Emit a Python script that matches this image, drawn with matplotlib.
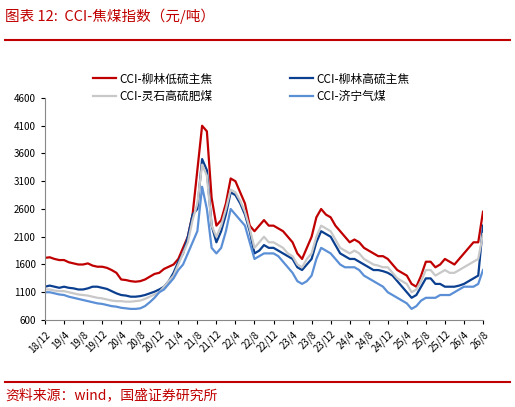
import matplotlib
matplotlib.use("Agg")
import matplotlib.pyplot as plt
import numpy as np

plt.rcParams['font.family'] = ['Noto Sans CJK SC', 'DejaVu Sans']

tick_labels = ["18/12","19/4","19/8","19/12","20/4","20/8","20/12","21/4","21/8","21/12","22/4","22/8",
               "22/12","23/4","23/8","23/12","24/4","24/8","24/12","25/4","25/8","25/12","26/4","26/8"]

red = [1720,1730,1700,1680,1680,1640,1620,1600,1600,1620,1580,1560,1560,
       1540,1500,1450,1330,1320,1300,1290,1300,1330,1380,1430,1450,
       1520,1560,1600,1700,1900,2100,2500,3300,4100,4000,2800,2300,
       2400,2700,3150,3100,2900,2700,2300,2200,2300,2400,2300,2300,
       2250,2200,2100,2000,1800,1700,1900,2100,2450,2600,2500,2450,
       2300,2200,2100,2000,2050,2000,1900,1850,1800,1750,1750,1700,
       1600,1500,1450,1400,1250,1200,1400,1650,1650,1550,1600,1700,
       1650,1600,1700,1800,1900,2000,2000,2550]
blue = [1200,1220,1200,1180,1200,1180,1170,1150,1150,1170,1200,1200,1180,
        1160,1120,1080,1050,1040,1020,1020,1030,1050,1080,1110,1150,
        1200,1300,1450,1650,1800,2100,2500,2600,3500,3300,2300,2000,
        2200,2500,2900,2850,2700,2500,2200,1800,1850,1950,1900,1900,
        1850,1800,1750,1700,1550,1500,1600,1700,2000,2200,2150,2100,
        1950,1800,1750,1700,1700,1650,1600,1550,1500,1500,1480,1450,
        1400,1300,1200,1100,1000,1050,1200,1350,1350,1250,1250,1200,
        1200,1200,1220,1250,1300,1350,1400,2300]
grey = [1150,1150,1130,1120,1120,1100,1080,1060,1050,1040,1020,1000,990,
        970,950,940,940,930,930,940,950,980,1020,1060,1100,
        1200,1300,1400,1600,1800,2000,2400,2700,3400,3200,2300,2100,
        2300,2600,2950,2900,2750,2550,2250,1900,2000,2100,2000,2000,
        1950,1900,1800,1750,1600,1550,1700,1800,2100,2300,2250,2200,
        2050,1900,1850,1800,1850,1800,1700,1650,1600,1580,1550,1550,
        1450,1350,1300,1250,1100,1150,1300,1500,1500,1400,1450,1500,
        1450,1450,1500,1550,1600,1650,1700,2150]
lblue = [1100,1100,1080,1060,1050,1020,1000,980,960,940,920,900,890,
         870,850,840,820,810,800,800,810,850,920,1000,1100,
         1150,1250,1350,1500,1600,1800,2000,2200,3000,2600,1900,1800,
         1900,2200,2600,2500,2400,2300,2000,1700,1750,1800,1800,1800,
         1750,1650,1550,1450,1300,1250,1300,1400,1700,1900,1850,1800,
         1700,1600,1550,1550,1550,1500,1400,1350,1300,1250,1200,1100,
         1050,1000,950,900,800,850,950,1000,1000,1000,1050,1050,
         1050,1100,1150,1200,1200,1200,1250,1500]

x = np.arange(len(red))
fig = plt.figure(figsize=(5.15, 4.07), dpi=100)
ax = fig.add_axes([45/515, 1-320/407, 438/515, 222/407])
l1, = ax.plot(x, red, color='#C00000', lw=1.6, label='CCI-柳林低硫主焦')
l2, = ax.plot(x, blue, color='#0B3F8F', lw=1.6, label='CCI-柳林高硫主焦')
l3, = ax.plot(x, grey, color='#C8C8C8', lw=1.6, label='CCI-灵石高硫肥煤')
l4, = ax.plot(x, lblue, color='#5B8FD6', lw=1.6, label='CCI-济宁气煤')
ax.set_xlim(0, 92)
ax.set_ylim(600, 4600)
ax.set_yticks(range(600, 4601, 500))
ax.set_xticks(np.arange(0, 93, 4))
ax.set_xticklabels(tick_labels, rotation=45, ha='right', rotation_mode='anchor', fontsize=7)
ax.tick_params(axis='y', labelsize=7, length=3)
ax.tick_params(axis='x', length=3)
for s in ['top', 'right']:
    ax.spines[s].set_visible(False)
for s in ['left', 'bottom']:
    ax.spines[s].set_color('#888888')
fig.legend([l1, l3, l2, l4], [l.get_label() for l in (l1, l3, l2, l4)],
           ncol=2, loc='upper left', bbox_to_anchor=(82/515, 1-62/407), frameon=False,
           fontsize=8.5, handlelength=2, columnspacing=6.5, handletextpad=0.3, labelspacing=0.35)

fig.text(0.01, 1-16/407, '图表 12:  CCI-焦煤指数（元/吨）', color='#C00000', fontsize=10.5,
         style='italic', va='center')
fig.add_artist(plt.Line2D([5/515, 510/515], [1-40/407, 1-40/407], color='#C00000', lw=1.5))
fig.add_artist(plt.Line2D([5/515, 510/515], [1-382/407, 1-382/407], color='#C00000', lw=1.5))
fig.text(0.01, 1-395/407, '资料来源：wind，国盛证券研究所', color='#C00000', fontsize=10,
         style='italic', va='center')
fig.savefig('out.png', dpi=100)
